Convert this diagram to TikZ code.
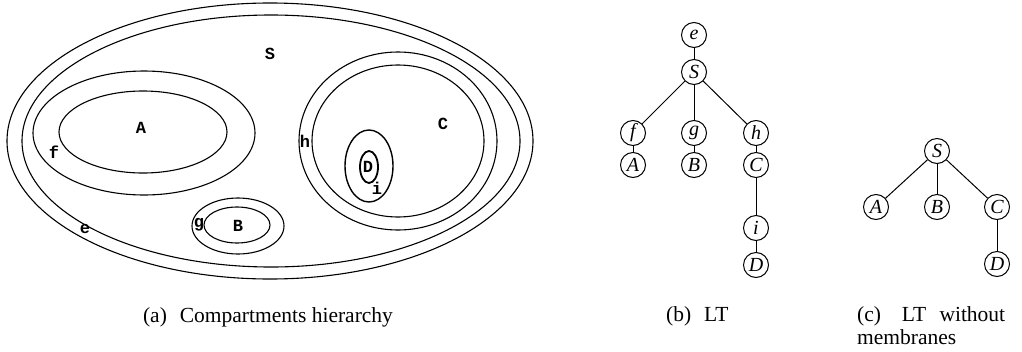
\documentclass[tikz,border=0pt]{standalone}
\usepackage{fontspec}
\setmainfont{Liberation Serif}
\setmonofont{Liberation Mono}

\tikzset{
  membrane/.style={line width=1.1pt},
  lbl/.style={inner sep=0pt, font=\ttfamily\bfseries\fontsize{17}{17}\selectfont},
  tnode/.style={draw, circle, line width=1pt, minimum size=25pt, inner sep=0pt,
    font=\itshape\fontsize{20}{20}\selectfont},
  tedge/.style={line width=1pt},
  capt/.style={inner sep=0pt, font=\fontsize{21.5}{23}\selectfont}
}

\begin{document}
\begin{tikzpicture}[x=1pt,y=1pt,yscale=-1,xscale=1]
		\useasboundingbox (0,0) rectangle (1022,351);

		% Compartments hierarchy: membranes
		\draw[membrane] (270,141) ellipse (263 and 138);
		\draw[membrane] (271,141) ellipse (249 and 126);
		\draw[membrane] (144,133) ellipse (111 and 62);
		\draw[membrane] (143,132) ellipse (84 and 41);
		\draw[membrane] (238,226) ellipse (46 and 28);
		\draw[membrane] (237,225) ellipse (33 and 18);
		\draw[membrane] (398,141) ellipse (99 and 89);
		\draw[membrane] (398,141) ellipse (86 and 76);
		\draw[membrane, line width=1.4pt] (369,166) ellipse (24 and 36);
		\draw[membrane, line width=1.8pt] (369,167) ellipse (9 and 16);

		% Compartments hierarchy: labels
		\node[lbl] (lblS) at (270,54) {S};
		\node[lbl] (lblA) at (141,128) {A};
		\node[lbl] (lblf) at (54,152) {f};
		\node[lbl] (lblB) at (238,226) {B};
		\node[lbl] (lblg) at (199,225) {g};
		\node[lbl] (lble) at (85,229) {e};
		\node[lbl] (lblC) at (443,124) {C};
		\node[lbl] (lblh) at (305,141) {h};
		\node[lbl] (lblD) at (368,167) {D};
		\node[lbl] (lbli) at (377,188) {i};

		% LT
		\node[tnode] (be) at (694,35) {e};
		\node[tnode] (bS) at (694,72) {S};
		\node[tnode] (bf) at (633,133) {f};
		\node[tnode] (bg) at (694,133) {g};
		\node[tnode] (bh) at (756,133) {h};
		\node[tnode] (bA) at (633,165) {A};
		\node[tnode] (bB) at (694,165) {B};
		\node[tnode] (bC) at (756,165) {C};
		\node[tnode] (bi) at (756,228) {i};
		\node[tnode] (bD) at (756,265) {D};

		\draw[tedge] (be) -- (bS);
		\draw[tedge] (bS) -- (bf);
		\draw[tedge] (bS) -- (bg);
		\draw[tedge] (bS) -- (bh);
		\draw[tedge] (bf) -- (bA);
		\draw[tedge] (bg) -- (bB);
		\draw[tedge] (bh) -- (bC);
		\draw[tedge] (bC) -- (bi);
		\draw[tedge] (bi) -- (bD);

		% LT without membranes
		\node[tnode] (cS) at (937,151) {S};
		\node[tnode] (cA) at (876,207) {A};
		\node[tnode] (cB) at (937,207) {B};
		\node[tnode] (cC) at (997,207) {C};
		\node[tnode] (cD) at (997,264) {D};

		\draw[tedge] (cS) -- (cA);
		\draw[tedge] (cS) -- (cB);
		\draw[tedge] (cS) -- (cC);
		\draw[tedge] (cC) -- (cD);

		% Captions
		\node[capt, anchor=base] (capa) at (268,322) {(a)\hspace{0.35em} Compartments hierarchy};
		\node[capt, anchor=base west] (capb) at (666,321) {(b)\hspace{0.35em} LT};
		\node[capt, anchor=base west, text width=148pt, align=justify] (capc) at (857,321) {(c)\hspace{0.35em} LT without membranes};
	\end{tikzpicture}
\end{document}
